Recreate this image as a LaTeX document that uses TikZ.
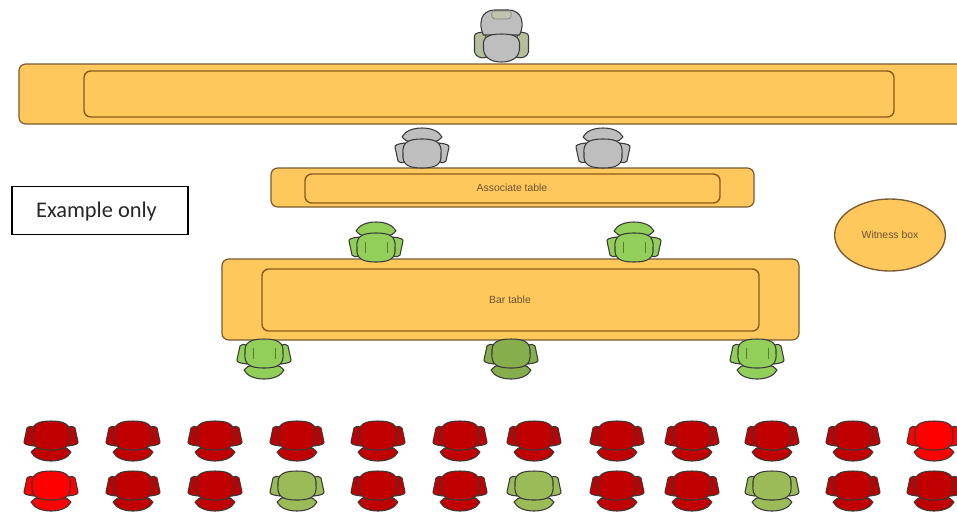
\documentclass[tikz,border=0pt]{standalone}
\usepackage{fontspec}
\usetikzlibrary{shapes.geometric}
\setmainfont{Carlito}
\setsansfont{Liberation Sans}
\definecolor{tablefill}{HTML}{FEC85C}
\definecolor{tableline}{HTML}{7A5A30}
\definecolor{innerline}{HTML}{8A5A1A}
\definecolor{labeltext}{HTML}{6B5230}
\definecolor{chairgray}{HTML}{BEBEBE}
\definecolor{chairgreen}{HTML}{92CF5A}
\definecolor{chairolive}{HTML}{9BBB59}
\definecolor{chairdark}{HTML}{86AE4C}
\definecolor{chairred}{HTML}{C00000}
\definecolor{chairbright}{HTML}{FF0000}
\definecolor{chairline}{HTML}{3A3A3A}
\definecolor{armsage}{HTML}{B4BE9C}
\definecolor{headsage}{HTML}{BFC5AE}
\tikzset{
  tableouter/.style={draw=tableline,fill=tablefill,line width=0.9pt,rounded corners=5pt},
  tableinner/.style={draw=innerline,fill=tablefill,line width=1.05pt,rounded corners=5pt},
  tabletext/.style={font=\sffamily\fontsize{7.8}{9}\selectfont,text=labeltext},
  chairpart/.style={draw=chairline,line width=0.8pt,line join=round},
}
% x, y of centre, fill colour, flip (1 = back on top, -1 = back below)
\newcommand{\chairat}[4]{%
  \begin{scope}[shift={(#1,#2)},yscale=#4,chairpart,fill=#3]
    \filldraw (-27,-1) .. controls (-27,-3) and (-25,-4) .. (-17,-5) -- (-17,14) .. controls (-20,15) and (-23,15) .. (-24,13) -- cycle;
    \filldraw (27,-1) .. controls (27,-3) and (25,-4) .. (17,-5) -- (17,14) .. controls (20,15) and (23,15) .. (24,13) -- cycle;
    \filldraw (-20,-11) .. controls (-17,-17) and (-9,-20) .. (0,-20) .. controls (9,-20) and (17,-17) .. (20,-11) .. controls (18,-8) and (15,-7) .. (12,-6) -- (-12,-6) .. controls (-15,-7) and (-18,-8) .. (-20,-11) -- cycle;
    \filldraw (-19,6) .. controls (-20,-5) and (-15,-9) .. (0,-9) .. controls (15,-9) and (20,-5) .. (19,6) .. controls (20,17) and (13,20) .. (0,20) .. controls (-13,20) and (-20,17) .. (-19,6) -- cycle;
  \end{scope}}
\newcommand{\seatlines}[3]{%
  \begin{scope}[shift={(#1,#2)},yscale=#3]
    \draw[chairdark!70!black,line width=0.4pt] (-11,0) -- (-11,11) (11,0) -- (11,11);
  \end{scope}}
\begin{document}
\begin{tikzpicture}[x=0.75pt,y=-0.75pt]
\useasboundingbox (0,0) rectangle (957,512);
% tables
\filldraw[tableouter] (19,64) rectangle (975,124);
\filldraw[tableinner] (84,71) rectangle (894,117);
\filldraw[tableouter] (271,168) rectangle (754,207);
\filldraw[tableinner] (305,174) rectangle (720,203);
\node[tabletext] (assoc) at (512,188) {Associate table};
\filldraw[tableouter] (222,259) rectangle (799,340);
\filldraw[tableinner] (262,269) rectangle (759,331);
\node[tabletext] (bar) at (510,300) {Bar table};
\node[draw=tableline,fill=tablefill,line width=1pt,ellipse,minimum width=83pt,minimum height=54pt,inner sep=0pt,tabletext] (witness) at (890,235) {Witness box};
% example box
\node[draw=black,line width=0.8pt,minimum width=132pt,minimum height=36.5pt,inner sep=0pt] (example) at (100,210.5) {};
\node[font=\fontsize{16.8}{20}\selectfont,text=black!85,inner sep=0pt] (exampletext) at (96.5,212) {Example only};
% top chair
\begin{scope}[shift={(501.5,37)},chairpart]
  \filldraw[fill=armsage] (-27,-1) .. controls (-27,-4) and (-22,-5) .. (-16,-5) -- (-14,20) .. controls (-20,22) and (-26,20) .. (-27,15) -- cycle;
  \filldraw[fill=armsage] (27,-1) .. controls (27,-4) and (22,-5) .. (16,-5) -- (14,20) .. controls (20,22) and (26,20) .. (27,15) -- cycle;
  \filldraw[fill=chairgray] (-18,-2) .. controls (-22,-10) and (-21,-18) .. (-18,-22) .. controls (-15,-26) and (-10,-27) .. (-7,-27) -- (7,-27) .. controls (10,-27) and (15,-26) .. (18,-22) .. controls (21,-18) and (22,-10) .. (18,-2) -- cycle;
  \filldraw[fill=headsage,draw=gray,line width=0.5pt] (-9,-26) -- (9,-26) .. controls (11,-21) and (9,-18) .. (6,-18) -- (-6,-18) .. controls (-9,-18) and (-11,-21) .. (-9,-26) -- cycle;
  \filldraw[fill=chairgray] (-18,9) .. controls (-19,0) and (-13,-3) .. (0,-3) .. controls (13,-3) and (19,0) .. (18,9) .. controls (19,20) and (11,25) .. (0,25) .. controls (-11,25) and (-19,20) .. (-18,9) -- cycle;
\end{scope}
% associate chairs
\chairat{422}{148}{chairgray}{1}
\chairat{603}{148}{chairgray}{1}
% counsel chairs
\chairat{376}{242}{chairgreen}{1}
\seatlines{376}{242}{1}
\chairat{634}{242}{chairgreen}{1}
\seatlines{634}{242}{1}
\chairat{264}{359}{chairgreen}{-1}
\seatlines{264}{359}{-1}
\chairat{511}{359}{chairdark}{-1}
\chairat{757}{359}{chairgreen}{-1}
\seatlines{757}{359}{-1}
% public rows
\chairat{51}{441}{chairred}{-1}
\chairat{133}{441}{chairred}{-1}
\chairat{215}{441}{chairred}{-1}
\chairat{297}{441}{chairred}{-1}
\chairat{378}{441}{chairred}{-1}
\chairat{460}{441}{chairred}{-1}
\chairat{534}{441}{chairred}{-1}
\chairat{617}{441}{chairred}{-1}
\chairat{692}{441}{chairred}{-1}
\chairat{772}{441}{chairred}{-1}
\chairat{853}{441}{chairred}{-1}
\chairat{934}{441}{chairbright}{-1}
\chairat{51}{491}{chairbright}{-1}
\chairat{133}{491}{chairred}{-1}
\chairat{215}{491}{chairred}{-1}
\chairat{297}{491}{chairolive}{-1}
\chairat{378}{491}{chairred}{-1}
\chairat{460}{491}{chairred}{-1}
\chairat{534}{491}{chairolive}{-1}
\chairat{617}{491}{chairred}{-1}
\chairat{692}{491}{chairred}{-1}
\chairat{772}{491}{chairolive}{-1}
\chairat{853}{491}{chairred}{-1}
\chairat{934}{491}{chairred}{-1}
\end{tikzpicture}
\end{document}
